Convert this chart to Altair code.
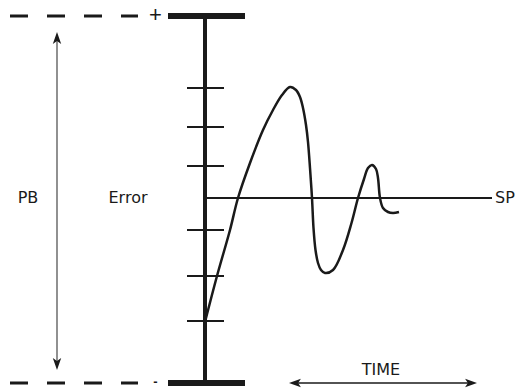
import altair as alt
import pandas as pd

# Controller response: time after the disturbance vs error from the set point
curve_time = [0.5, 12, 25, 33, 45, 58, 68, 77, 85, 91, 95, 98, 101, 103, 105, 107, 108.5, 110.5, 113, 116,
              120, 128, 138, 146.5, 153, 159, 163, 167, 171, 173, 175, 178, 183, 188, 194]
curve_error = [-122, -78, -32, 0, 35, 68, 88, 103, 111, 108, 101, 90, 73, 56, 30, 0, -30, -52, -65, -72,
               -75, -72, -52, -25, 0, 19, 30, 33, 29, 20, 0, -10, -14, -15, -14]

# Error scale graduations on the vertical bar
tick_levels = [110, 71, 32, -32, -78, -123]

# Proportional band limits (+ / -)
band_limits = [182, -185]
band_signs = ["+", "-"]

# Text labels
label_text = ["PB", "Error", "SP", "TIME"]
label_x = [-177, -77, 300, 176]
label_y = [0, 0, 0, -172]

xs = alt.Scale(domain=[-197, 310], nice=False, zero=False)
ys = alt.Scale(domain=[-190, 190], nice=False, zero=False)


def X(f):
    return alt.X(f, type="quantitative", scale=xs, axis=None)


def Y(f):
    return alt.Y(f, type="quantitative", scale=ys, axis=None)


INK = "#1a1a1a"

# dashed band limit lines
guides = pd.DataFrame({"x": [-195, -195], "x2": [-67, -67], "y": band_limits})
guide_layer = alt.Chart(guides).mark_rule(strokeDash=[18, 19], strokeWidth=3, color=INK).encode(
    x=X("x"), x2="x2", y=Y("y"))

plus_layer = alt.Chart(pd.DataFrame({"x": [-49.5], "y": [183], "t": [band_signs[0]]})).mark_text(
    font="Liberation Sans", fontSize=22, color=INK, align="center", baseline="middle").encode(
    x=X("x"), y=Y("y"), text="t:N")
minus_layer = alt.Chart(pd.DataFrame({"x": [-49.5], "y": [-184], "t": [band_signs[1]]})).mark_text(
    font="Liberation Sans", fontSize=13, fontWeight="bold", color=INK, align="center",
    baseline="middle").encode(x=X("x"), y=Y("y"), text="t:N")

# thick end bars
bars = pd.DataFrame({"x": [-37, -37], "x2": [40, 40], "y": band_limits})
bar_layer = alt.Chart(bars).mark_rule(strokeWidth=6, color=INK).encode(
    x=X("x"), x2="x2", y=Y("y"))

# vertical error scale
axis_df = pd.DataFrame({"x": [0], "y": [band_limits[0]], "y2": [band_limits[1]]})
axis_layer = alt.Chart(axis_df).mark_rule(strokeWidth=4, color=INK).encode(
    x=X("x"), y=Y("y"), y2="y2")

ticks = pd.DataFrame({"x": [-18] * len(tick_levels), "x2": [19] * len(tick_levels), "y": tick_levels})
tick_layer = alt.Chart(ticks).mark_rule(strokeWidth=2, color=INK).encode(
    x=X("x"), x2="x2", y=Y("y"))

# set point line
sp = pd.DataFrame({"x": [0], "x2": [287], "y": [0]})
sp_layer = alt.Chart(sp).mark_rule(strokeWidth=2, color=INK).encode(
    x=X("x"), x2="x2", y=Y("y"))

# response curve
curve = pd.DataFrame({"t": curve_time, "e": curve_error, "i": list(range(len(curve_time)))})
curve_layer = alt.Chart(curve).mark_line(interpolate="catmull-rom", strokeWidth=2.5, color=INK).encode(
    x=X("t"), y=Y("e"), order="i:Q")

# PB double arrow
pb = pd.DataFrame({"x": [-148], "y": [160], "y2": [-164]})
pb_layer = alt.Chart(pb).mark_rule(strokeWidth=1.3, color="#555555").encode(
    x=X("x"), y=Y("y"), y2="y2")

UP = "M0,-1L0.6,0.7L0,0.3L-0.6,0.7Z"
DOWN = "M0,1L0.6,-0.7L0,-0.3L-0.6,-0.7Z"
LEFT = "M-1,0L0.7,-0.6L0.3,0L0.7,0.6Z"
RIGHT = "M1,0L-0.7,-0.6L-0.3,0L-0.7,0.6Z"

heads = []
for shape, x, y in [(UP, -148, 159), (DOWN, -148, -165), (LEFT, 91, -185), (RIGHT, 265, -185)]:
    heads.append(alt.Chart(pd.DataFrame({"x": [x], "y": [y]})).mark_point(
        shape=shape, filled=True, size=196, opacity=1, color=INK, strokeWidth=0).encode(
        x=X("x"), y=Y("y")))

# TIME arrow
tm = pd.DataFrame({"x": [90], "x2": [266], "y": [-185]})
tm_layer = alt.Chart(tm).mark_rule(strokeWidth=1.3, color=INK).encode(
    x=X("x"), x2="x2", y=Y("y"))

labels = pd.DataFrame({"x": label_x, "y": label_y, "t": label_text})
label_layer = alt.Chart(labels).mark_text(font="DejaVu Sans", fontSize=16, color=INK,
                                          align="center", baseline="middle").encode(
    x=X("x"), y=Y("y"), text="t:N")

chart = alt.layer(guide_layer, plus_layer, minus_layer, bar_layer, axis_layer, tick_layer, sp_layer,
                  curve_layer, pb_layer, tm_layer, *heads, label_layer).properties(
    width=507, height=380, padding=0, autosize=alt.AutoSizeParams(type="none"),
    background="white").configure_view(stroke=None)

chart.save("out.html", embed_options={"renderer": "svg", "actions": False})
